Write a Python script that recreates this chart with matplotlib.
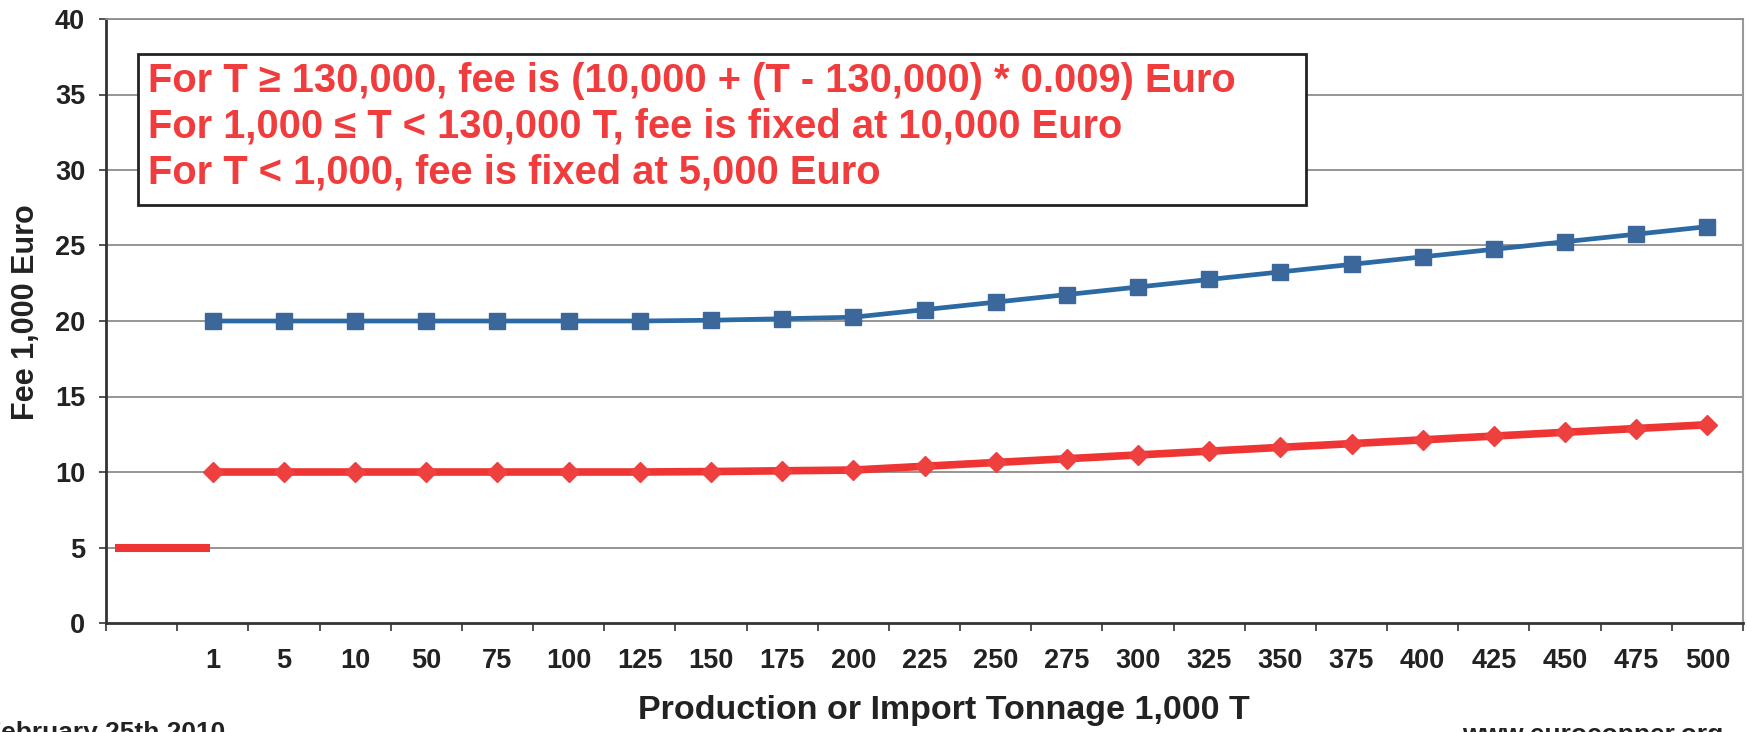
import matplotlib
matplotlib.use("Agg")
import matplotlib.pyplot as plt
from matplotlib.patches import Rectangle
import numpy as np

plt.rcParams['font.family'] = ['Liberation Sans', 'DejaVu Sans']
plt.rcParams['font.weight'] = 'bold'

# ---- data ----
categories = ["", "1", "5", "10", "50", "75", "100", "125", "150", "175", "200",
              "225", "250", "275", "300", "325", "350", "375", "400", "425",
              "450", "475", "500"]
fee_blue = [np.nan, 20, 20, 20, 20, 20, 20, 20, 20.05, 20.15, 20.25, 20.75, 21.25,
            21.75, 22.25, 22.75, 23.25, 23.75, 24.25, 24.75, 25.25, 25.75, 26.25]
fee_red = [np.nan, 10, 10, 10, 10, 10, 10, 10, 10.03, 10.08, 10.13, 10.38, 10.63,
           10.88, 11.13, 11.38, 11.63, 11.88, 12.13, 12.38, 12.63, 12.88, 13.13]
low_tier_x = [-0.37, 0.96]
low_tier_fee = [5, 5]
y_ticks = [0, 5, 10, 15, 20, 25, 30, 35, 40]
notes = ["For T \u2265 130,000, fee is (10,000 + (T - 130,000) * 0.009) Euro",
         "For 1,000 \u2264 T < 130,000 T, fee is fixed at 10,000 Euro",
         "For T < 1,000, fee is fixed at 5,000 Euro"]

W, H = 1747, 732
fig = plt.figure(figsize=(W / 100, H / 100), dpi=100)
ax = fig.add_axes([106 / W, 1 - 623 / H, (1743 - 106) / W, (623 - 19) / H])

x = np.arange(len(categories))
grid_c = '#8c8c8c'
for yv in y_ticks[1:]:
    ax.axhline(yv, color=grid_c, lw=1.3, zorder=1)

ax.plot(x, fee_blue, color='#2b6aa3', lw=3.4, marker='s', ms=12,
        mfc='#3b679a', mec='#3b679a', zorder=3)
ax.plot(x, fee_red, color='#ef3434', lw=5.5, marker='D', ms=10,
        mfc='#ef4040', mec='#ef4040', zorder=3)
ax.plot(low_tier_x, low_tier_fee, color='#ef3434', lw=5.8,
        solid_capstyle='butt', zorder=3)

ax.set_xlim(-0.5, len(categories) - 0.5)
ax.set_ylim(0, 40)
ax.set_yticks(y_ticks)
ax.set_xticks(x)
ax.set_xticklabels(categories)
ax.set_xticks(np.arange(-0.5, len(categories), 1.0), minor=True)
ax.tick_params(axis='x', which='major', length=0, pad=18, labelsize=19.5,
               labelcolor='#222222')
ax.tick_params(axis='x', which='minor', length=6, width=1.3, color='#444444')
ax.tick_params(axis='y', length=5, width=1.3, color='#444444', pad=10,
               labelsize=19.5, labelcolor='#222222')

for s in ['left', 'bottom']:
    ax.spines[s].set_color('#333333')
    ax.spines[s].set_linewidth(2)
ax.spines['top'].set_color(grid_c)
ax.spines['top'].set_linewidth(1.3)
ax.spines['right'].set_color('#999999')
ax.spines['right'].set_linewidth(1.5)

# annotation box
box = Rectangle((138 / W, 1 - 205 / H), (1306 - 138) / W, (205 - 54) / H,
                transform=fig.transFigure, facecolor='white', edgecolor='#222222',
                lw=2, zorder=5)
fig.patches.append(box)
for i, line in enumerate(notes):
    fig.text(148 / W, 1 - (92 + 46 * i) / H, line, color='#f03c3c', fontsize=28.7,
             fontweight='bold', ha='left', va='baseline', zorder=6)

fig.text(26 / W, 1 - 312 / H, "Fee 1,000 Euro", rotation=90, ha='center',
         va='center', fontsize=22, color='#222222')
fig.text(944 / W, 1 - 711 / H, "Production or Import Tonnage 1,000 T",
         ha='center', va='center', fontsize=24.5, color='#222222')
fig.text(-15 / W, 1 - 740 / H, "February 25th 2010", ha='left', va='baseline',
         fontsize=19, color='#222222')
fig.text(1462 / W, 1 - 742 / H, "www.eurocopper.org", ha='left', va='baseline',
         fontsize=19, color='#222222')

fig.savefig("out.png", dpi=100)
